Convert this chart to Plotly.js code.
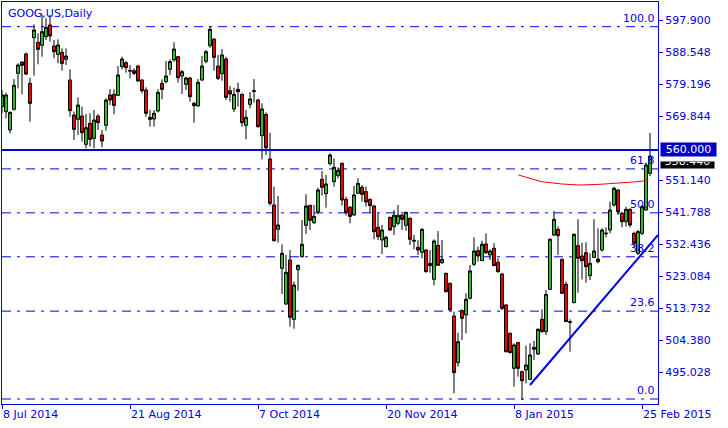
<!DOCTYPE html>
<html>
<head>
<meta charset="utf-8">
<script src="https://cdn.plot.ly/plotly-3.0.1.min.js"></script>
<style>html,body{margin:0;padding:0;background:#fff;}#chart{width:728px;height:428px;}</style>
</head>
<body>
<div id="chart"></div>
<script>
// Daily bars, 8 Jul 2014 .. 27 Feb 2015 (bar index 0 = 8 Jul 2014)
const opens = [572.66,571.20,565.84,571.88,582.40,585.71,588.05,579.47,592.82,591.46,590.58,593.11,596.52,590.39,587.95,588.53,586.49,580.45,570.22,568.95,569.93,561.65,567.79,563.40,569.93,564.38,567.20,576.07,576.26,575.97,584.35,585.52,583.27,583.18,584.54,580.45,577.53,569.54,569.05,571.39,579.47,579.96,583.57,586.30,587.27,581.62,579.18,581.03,573.63,572.85,580.45,585.91,590.48,592.43,584.54,582.30,586.59,577.33,571.97,577.72,576.26,567.20,573.34,577.33,574.60,564.18,570.41,557.37,543.92,536.81,525.41,514.99,527.85,510.51,525.02,528.82,537.98,543.83,538.76,541.97,551.42,547.24,556.00,550.74,552.50,556.10,545.58,543.24,541.00,547.33,549.09,547.82,545.58,543.63,537.40,533.69,531.74,540.32,537.59,538.56,541.00,537.98,540.03,533.60,531.55,530.09,530.77,526.19,522.20,532.13,527.07,523.95,521.03,511.48,497.84,513.04,511.78,516.65,526.58,530.58,527.66,532.53,529.31,531.26,527.17,523.76,514.70,506.42,496.19,503.69,495.21,495.70,492.97,502.32,500.38,510.51,506.91,519.28,535.15,536.81,528.04,520.74,509.83,515.38,532.04,529.02,529.99,523.27,528.63,528.14,530.77,535.74,536.61,543.92,548.31,541.49,539.05,542.66,535.64,529.79,535.64,542.46,553.18];
const highs = [577.53,576.75,571.20,580.74,585.32,585.81,588.53,581.13,596.72,594.09,599.64,598.47,599.45,592.14,592.33,589.70,589.70,583.57,571.20,575.38,572.66,570.51,570.71,571.68,570.41,565.84,575.09,577.82,577.72,584.54,587.27,586.00,584.83,583.86,584.74,580.64,578.31,571.68,571.68,577.72,580.64,586.00,586.49,591.46,587.46,583.37,581.42,581.42,574.12,580.74,587.46,589.22,596.23,592.63,587.76,589.51,587.27,578.70,578.21,579.67,576.55,571.68,576.94,580.74,574.99,573.63,571.00,565.06,549.28,546.56,532.43,529.31,530.77,521.52,526.48,539.54,547.04,543.92,543.92,548.99,553.86,552.69,559.02,557.56,554.93,556.29,546.36,543.63,549.48,551.72,549.77,549.28,545.77,543.83,541.49,538.07,534.86,540.51,542.46,543.92,541.29,541.97,540.32,535.15,533.69,537.10,530.97,530.77,533.89,536.32,533.69,524.15,521.22,512.75,506.61,513.43,518.11,526.39,534.47,531.75,533.50,535.64,530.97,532.72,528.34,523.95,514.99,506.61,503.49,503.98,495.51,502.81,503.49,504.18,507.88,513.43,519.08,534.18,542.17,537.59,528.24,521.52,510.51,535.64,539.73,532.91,533.01,529.80,539.73,537.10,537.10,537.40,544.90,549.28,548.50,541.97,543.43,542.95,536.13,536.61,543.92,556.10,564.96];
const lows = [570.71,569.25,564.86,571.49,578.01,576.26,581.91,568.27,581.72,585.03,587.27,592.14,591.65,586.78,585.32,583.18,584.83,569.73,562.91,564.38,562.43,560.48,560.96,560.48,565.84,560.77,565.64,573.14,570.41,575.77,583.57,582.59,580.94,581.91,579.96,576.55,569.73,566.81,566.81,571.00,574.80,579.47,581.91,585.81,579.67,576.36,577.53,574.12,567.98,572.66,580.16,585.32,589.90,583.18,580.45,580.25,574.60,574.12,571.10,572.66,566.81,563.11,572.17,573.83,566.52,557.27,558.53,543.73,533.21,532.92,517.91,514.70,508.36,507.78,518.89,528.53,535.45,536.61,538.37,541.19,546.65,543.14,555.42,549.28,551.72,543.73,540.90,538.56,540.71,547.14,544.90,543.43,541.49,533.89,533.69,529.60,531.55,536.42,535.15,537.98,536.61,536.42,532.23,530.97,529.31,528.34,524.15,524.15,520.45,526.09,526.68,518.40,513.04,488.88,496.68,504.47,506.42,516.35,526.09,527.36,527.56,529.60,527.85,526.09,524.15,513.24,500.77,500.57,490.83,493.75,486.93,491.80,492.78,498.62,500.09,506.61,505.93,519.08,534.86,529.31,517.91,509.83,501.06,515.18,518.30,522.20,521.22,522.00,528.53,526.87,530.29,534.47,535.64,543.43,541.00,537.40,537.59,537.40,531.74,529.31,535.15,542.27,552.40];
const closes = [576.07,576.07,571.00,578.89,584.83,584.74,582.20,573.63,595.06,589.41,594.58,595.84,593.31,588.73,590.68,585.32,587.46,571.49,566.03,573.14,565.06,566.52,563.11,568.76,567.98,562.62,574.60,574.60,573.05,581.91,586.59,584.05,583.08,582.40,580.16,577.33,570.71,568.95,570.71,576.85,577.72,581.62,585.81,589.51,581.13,582.88,581.03,575.58,572.95,579.77,584.54,588.73,595.26,587.07,580.94,587.76,575.38,576.36,576.26,577.04,567.98,569.54,574.90,577.14,566.81,571.97,560.67,544.41,533.50,538.07,529.79,524.24,511.09,520.54,526.29,532.43,543.63,539.44,540.61,548.31,549.09,550.06,558.53,554.93,554.05,545.38,541.68,540.61,546.85,550.25,547.04,544.80,543.73,536.13,534.67,536.61,534.47,536.61,540.95,540.90,539.73,541.78,533.89,533.40,530.77,536.81,524.44,526.87,533.40,526.29,528.04,518.59,513.24,494.92,503.98,510.80,516.35,524.64,530.48,529.02,532.43,530.00,530.48,526.19,524.44,513.72,501.06,500.77,503.01,496.19,492.58,497.16,500.09,501.74,507.59,506.91,517.81,533.89,539.73,534.96,518.11,509.83,509.63,535.35,528.34,527.66,525.90,526.87,530.48,527.36,536.61,535.54,542.46,548.79,541.97,539.05,542.66,538.07,532.72,536.13,543.43,555.61,558.24];

// Red moving-average curve, read at a few bar positions
const maBars = [129.1,132,134.9,139.9,144.5,149.5,154.5,157.8,160.3,161.6];
const maValues = [552.69,551.73,550.73,550.06,549.76,549.97,550.26,550.64,550.93,551.14];

// Date tick labels (bar index -> label)
const dateTickBars = [0,32,64,96,128,160];
const dateTickLabels = ["8 Jul 2014","21 Aug 2014","7 Oct 2014","20 Nov 2014","8 Jan 2015","25 Feb 2015"];

// Price scale labels
const priceTicks = [597.900,588.548,579.196,569.844,551.140,541.788,532.436,523.084,513.732,504.380,495.028];

// Fibonacci retracement (0 = low, 100 = high)
const fibLow = 487.22;
const fibHigh = 596.03;
const fibLevels = [0.0,23.6,38.2,50.0,61.8,100.0];

// Horizontal level, trend line, last price
const levelPrice = 560.000;
const trendBars = [132,164];
const trendPrices = [491.31,535.15];
const lastPrice = 558.440;

const BLUE = '#0000e6';
const FONT = 'DejaVu Sans, Verdana, sans-serif';

const xs = opens.map((_, i) => i);

const candles = {
  type: 'candlestick',
  x: xs, open: opens, high: highs, low: lows, close: closes,
  increasing: {fillcolor: '#2cbc2c', line: {color: '#000000', width: 1}},
  decreasing: {fillcolor: '#f00000', line: {color: '#000000', width: 1}},
  whiskerwidth: 0,
  hoverinfo: 'skip',
  showlegend: false
};

const ma = {
  type: 'scatter', mode: 'lines',
  x: maBars, y: maValues,
  line: {color: '#ff0000', width: 1},
  hoverinfo: 'skip', showlegend: false
};

const shapes = [];
const annotations = [];

fibLevels.forEach(lv => {
  const p = fibLow + (fibHigh - fibLow) * lv / 100;
  shapes.push({type: 'line', xref: 'paper', yref: 'y', x0: 0, x1: 1, y0: p, y1: p,
    line: {color: BLUE, width: 1, dash: '9px,6px,3px,6px'}, layer: 'below'});
  annotations.push({xref: 'paper', yref: 'y', x: 1, y: p, xanchor: 'right', yanchor: 'bottom',
    xshift: -1, yshift: 0, showarrow: false, text: lv.toFixed(1),
    font: {family: FONT, size: 11, color: BLUE}});
});

shapes.push({type: 'line', xref: 'paper', yref: 'y', x0: 0, x1: 1, y0: levelPrice, y1: levelPrice,
  line: {color: BLUE, width: 2}, layer: 'above'});
shapes.push({type: 'line', xref: 'x', yref: 'y', x0: trendBars[0], x1: trendBars[1],
  y0: trendPrices[0], y1: trendPrices[1], line: {color: BLUE, width: 2}, layer: 'above'});

annotations.push({xref: 'paper', yref: 'y', x: 1, y: lastPrice, xanchor: 'left', yanchor: 'top',
  xshift: 2, yshift: -6, showarrow: false, text: lastPrice.toFixed(3), bgcolor: '#000000',
  width: 53, height: 6, borderpad: 0, valign: 'bottom', font: {family: FONT, size: 11, color: '#ffffff'}});
annotations.push({xref: 'paper', yref: 'y', x: 1, y: levelPrice, xanchor: 'left', yanchor: 'middle',
  xshift: 2, showarrow: false, text: levelPrice.toFixed(3), bgcolor: '#0000c8',
  width: 53, height: 11, borderpad: 1, font: {family: FONT, size: 11, color: '#ffffff'}});
annotations.push({xref: 'paper', yref: 'paper', x: 0, y: 1, xanchor: 'left', yanchor: 'top',
  xshift: 4, yshift: -3, showarrow: false, text: 'GOOG,US,Daily',
  font: {family: FONT, size: 11, color: BLUE}});

const layout = {
  width: 728, height: 428,
  margin: {l: 2, r: 70, t: 2, b: 24},
  paper_bgcolor: '#ffffff', plot_bgcolor: '#ffffff',
  showlegend: false,
  boxgap: 0, boxgroupgap: 0.25,
  xaxis: {
    range: [0, 164], showgrid: false, zeroline: false,
    showline: true, mirror: true, linecolor: BLUE, linewidth: 1,
    ticks: 'outside', ticklen: 4, tickcolor: BLUE, tickwidth: 1,
    tickvals: dateTickBars, ticktext: dateTickLabels,
    ticklabelposition: 'outside right',
    tickfont: {family: FONT, size: 11, color: BLUE},
    rangeslider: {visible: false}, fixedrange: true
  },
  yaxis: {
    side: 'right', range: [485.76, 603.25], showgrid: false, zeroline: false,
    showline: true, mirror: true, linecolor: BLUE, linewidth: 1,
    ticks: 'outside', ticklen: 4, tickcolor: BLUE, tickwidth: 1,
    tickvals: priceTicks, ticktext: priceTicks.map(v => v.toFixed(3)),
    tickfont: {family: FONT, size: 11, color: BLUE}, fixedrange: true
  },
  shapes: shapes,
  annotations: annotations
};

Plotly.newPlot('chart', [candles, ma], layout, {staticPlot: true, displayModeBar: false});
</script>
</body>
</html>
